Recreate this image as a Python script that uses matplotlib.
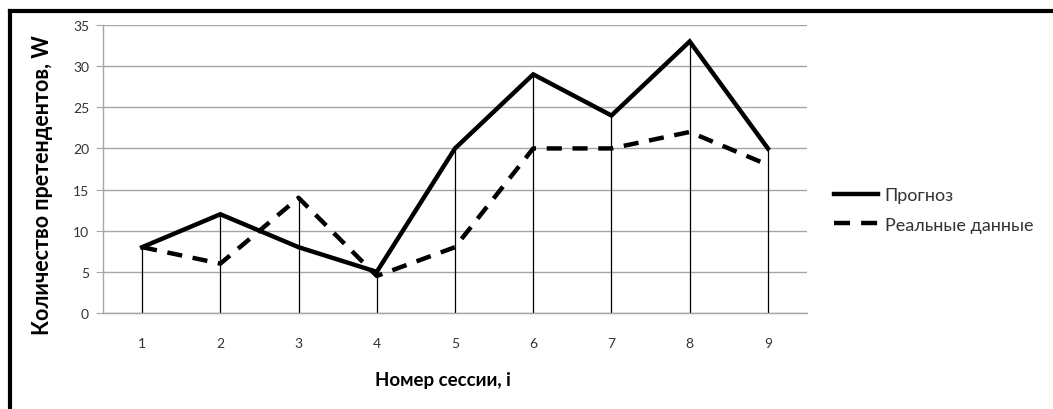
import numpy as np
import matplotlib
matplotlib.use("Agg")
import matplotlib.pyplot as plt
from matplotlib.lines import Line2D

# ── data ─────────────────────────────────────────────────────────────────────
sessions  = [1, 2, 3, 4, 5, 6, 7, 8, 9]
forecast  = [8, 12, 8, 5, 20, 29, 24, 33, 20]
actual    = [8, 6, 14, 4.5, 8, 20, 20, 22, 18]
y_ticks   = [0, 5, 10, 15, 20, 25, 30, 35]

plt.rcParams["font.family"] = ["Lato", "DejaVu Sans"]

fig = plt.figure(figsize=(10.53, 4.10), dpi=100)
ax = fig.add_axes([103 / 1053, 1 - 314 / 410, 704 / 1053, 288 / 410])

# grid and frame
ax.set_ylim(0, 35)
ax.set_xlim(0.5, 9.5)
ax.set_yticks(y_ticks)
ax.set_xticks(sessions)
ax.yaxis.grid(True, color="#a6a6a6", lw=1)
ax.set_axisbelow(True)
for s in ["top", "right"]:
    ax.spines[s].set_visible(False)
for s in ["left", "bottom"]:
    ax.spines[s].set_color("#a6a6a6")
    ax.spines[s].set_linewidth(1)
ax.tick_params(axis="y", length=5, color="#a6a6a6", pad=5,
               labelsize=10, labelcolor="#333333")
ax.tick_params(axis="x", length=0, pad=17, labelsize=10, labelcolor="#333333")

# drop lines
ax.vlines(sessions, 0, np.maximum(forecast, actual), color="black", lw=0.9, zorder=2)

# series
ax.plot(sessions, forecast, color="black", lw=3.2, solid_joinstyle="miter", zorder=3)
l2, = ax.plot(sessions, actual, color="black", lw=3.2, zorder=3)
l2.set_dashes((3.4, 2.4))

# axis titles
fig.text(43 / 1053, 1 - 185 / 410, "Количество претендентов, W", rotation=90,
         ha="center", va="center", fontsize=15.5, fontweight="bold")
fig.text(443 / 1053, 1 - 381 / 410, "Номер сессии, i",
         ha="center", va="center", fontsize=13.5, fontweight="bold")

# legend
h1 = Line2D([], [], color="black", lw=3.2)
h2 = Line2D([], [], color="black", lw=3.2, dashes=(3.6, 2.5))
fig.legend([h1, h2], ["Прогноз", "Реальные данные"],
           loc="center left", bbox_to_anchor=(834 / 1053, 1 - 211 / 410),
           frameon=False, fontsize=13, labelcolor="#333333",
           borderpad=0, borderaxespad=0,
           handlelength=2.45, handletextpad=0.35, labelspacing=0.75)

# outer border (top and left only visible)
fig.add_artist(Line2D([9.5 / 1053, 1], [1 - 11.5 / 410, 1 - 11.5 / 410],
                      color="black", lw=3, transform=fig.transFigure))
fig.add_artist(Line2D([9.5 / 1053, 9.5 / 1053], [0, 1 - 11.5 / 410],
                      color="black", lw=3, transform=fig.transFigure))

fig.savefig("out.png", dpi=100)
